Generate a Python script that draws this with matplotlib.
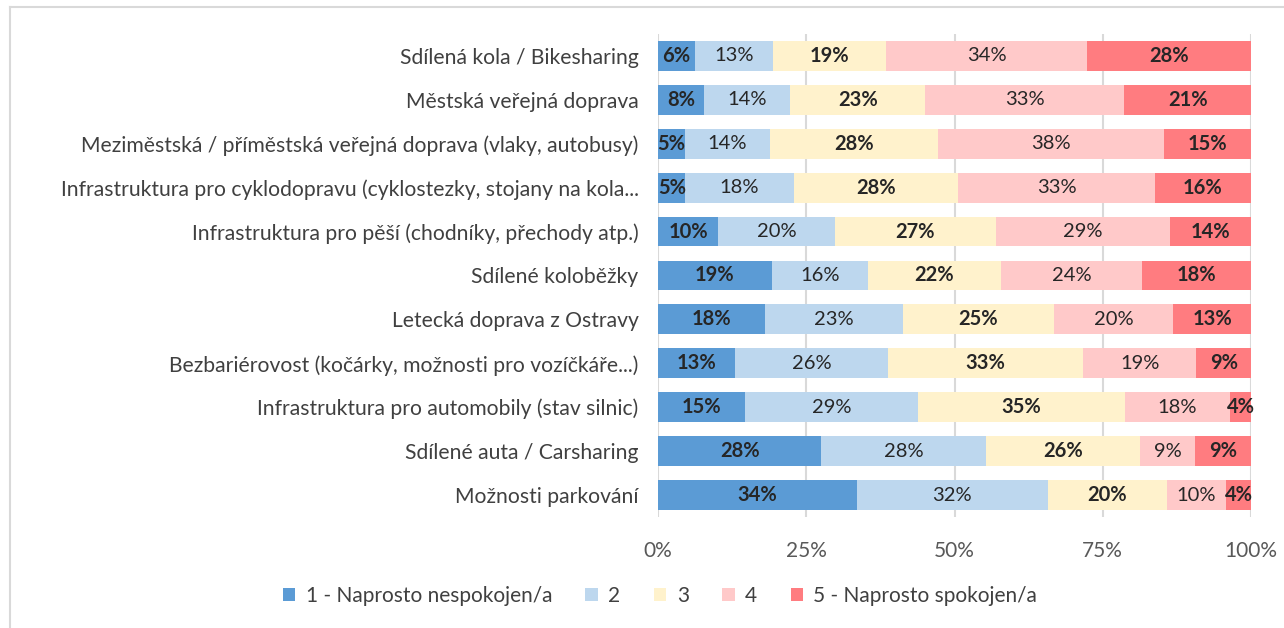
import matplotlib
matplotlib.use("Agg")
import matplotlib.pyplot as plt
from matplotlib.lines import Line2D
import numpy as np

plt.rcParams['font.family'] = ['Lato', 'DejaVu Sans']

categories = [
    "Sdílená kola / Bikesharing",
    "Městská veřejná doprava",
    "Meziměstská / příměstská veřejná doprava (vlaky, autobusy)",
    "Infrastruktura pro cyklodopravu (cyklostezky, stojany na kola...",
    "Infrastruktura pro pěší (chodníky, přechody atp.)",
    "Sdílené koloběžky",
    "Letecká doprava z Ostravy",
    "Bezbariérovost (kočárky, možnosti pro vozíčkáře...)",
    "Infrastruktura pro automobily (stav silnic)",
    "Sdílené auta / Carsharing",
    "Možnosti parkování",
]
series_names = ["1 - Naprosto nespokojen/a", "2", "3", "4", "5 - Naprosto spokojen/a"]
s1 = [6.2, 7.8, 4.5, 4.6, 10.1, 19.2, 18.0, 13.0, 14.6, 27.5, 33.5]
s2 = [13.2, 14.4, 14.3, 18.3, 19.7, 16.2, 23.3, 25.8, 29.3, 27.8, 32.2]
s3 = [19.0, 22.7, 28.4, 27.7, 27.2, 22.4, 25.4, 32.9, 34.8, 26.0, 20.1]
s4 = [34.0, 33.4, 38.1, 33.2, 29.3, 23.9, 20.2, 19.1, 17.8, 9.3, 10.0]
s5 = [27.6, 21.3, 14.7, 16.2, 13.7, 18.3, 13.1, 9.2, 3.5, 9.4, 4.2]
labels1 = ["6%", "8%", "5%", "5%", "10%", "19%", "18%", "13%", "15%", "28%", "34%"]
labels2 = ["13%", "14%", "14%", "18%", "20%", "16%", "23%", "26%", "29%", "28%", "32%"]
labels3 = ["19%", "23%", "28%", "28%", "27%", "22%", "25%", "33%", "35%", "26%", "20%"]
labels4 = ["34%", "33%", "38%", "33%", "29%", "24%", "20%", "19%", "18%", "9%", "10%"]
labels5 = ["28%", "21%", "15%", "16%", "14%", "18%", "13%", "9%", "4%", "9%", "4%"]

colors = ["#5B9BD5", "#BDD7EE", "#FFF2CC", "#FFC9C9", "#FF7C80"]

data = np.array([s1, s2, s3, s4, s5], dtype=float)
data = data / data.sum(axis=0) * 100
all_labels = [labels1, labels2, labels3, labels4, labels5]

fig = plt.figure(figsize=(12.84, 6.28), dpi=100)
ax = fig.add_axes([0.5125, 0.1768, 0.9743 - 0.5125, 0.9459 - 0.1768])

y = np.arange(len(categories))
left = np.zeros(len(categories))
handles = []
for i in range(5):
    b = ax.barh(y, data[i], left=left, height=0.68, color=colors[i], label=series_names[i], zorder=2)
    handles.append(b)
    for j in range(len(categories)):
        cx = left[j] + data[i][j] / 2
        ax.text(cx, y[j], all_labels[i][j], ha='center', va='center', fontsize=14.5,
                color='#262626', fontweight='bold' if i % 2 == 0 else 'normal', zorder=3)
    left += data[i]

ax.set_xlim(0, 100)
ax.set_ylim(len(categories) - 0.5, -0.5)
ax.set_yticks(y)
ax.set_yticklabels(categories, fontsize=15.2, color='#404040')
ax.set_xticks([0, 25, 50, 75, 100])
ax.set_xticklabels(["0%", "25%", "50%", "75%", "100%"], fontsize=15, color='#595959')
ax.tick_params(axis='both', length=0)
ax.tick_params(axis='x', pad=17)
ax.tick_params(axis='y', pad=14)
ax.grid(axis='x', color='#D9D9D9', linewidth=1.5, zorder=0)
for s in ax.spines.values():
    s.set_visible(False)

fig.legend(handles=handles, labels=series_names, loc='center', bbox_to_anchor=(0.514, 0.051),
           ncol=5, frameon=False, fontsize=15, handlelength=0.6, handleheight=0.6,
           handletextpad=0.5, columnspacing=1.6, labelcolor='#404040')

fig.add_artist(Line2D([10 / 1284, 10 / 1284], [0, 1 - 7 / 628], transform=fig.transFigure,
                      color='#D9D9D9', linewidth=1.5))
fig.add_artist(Line2D([10 / 1284, 1], [1 - 7 / 628, 1 - 7 / 628], transform=fig.transFigure,
                      color='#D9D9D9', linewidth=1.5))

fig.savefig("out.png", dpi=100)
